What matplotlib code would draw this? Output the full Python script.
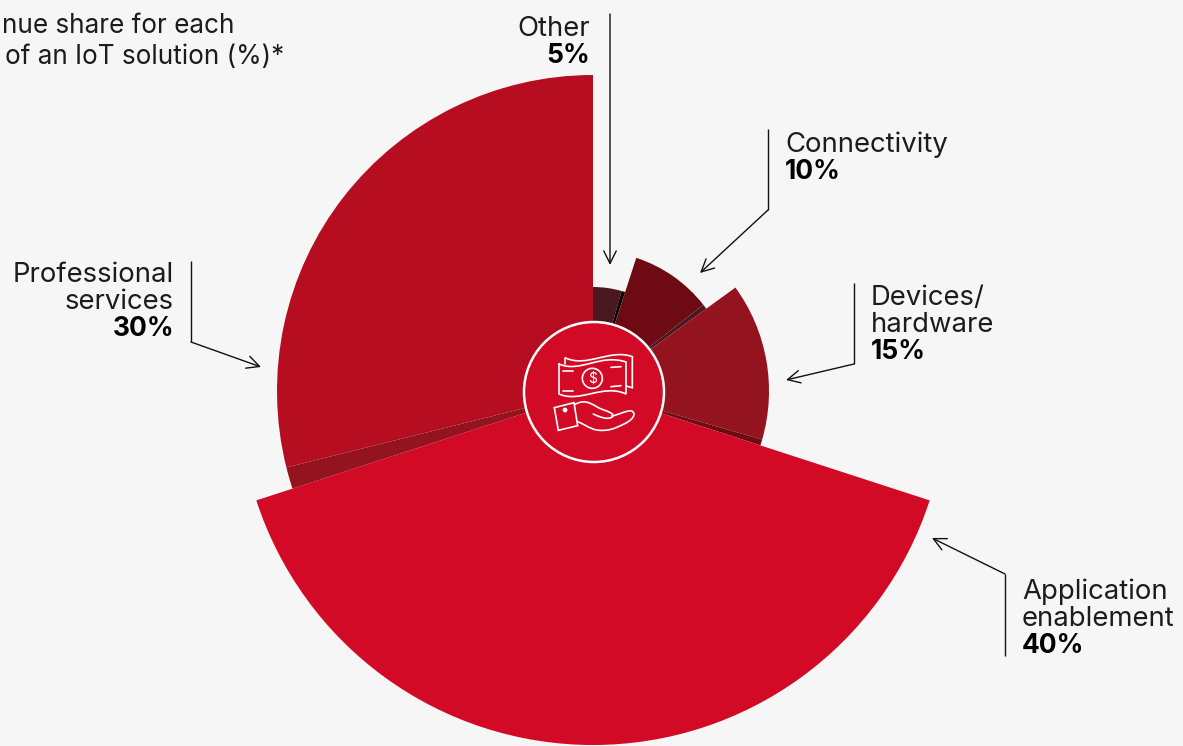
import numpy as np
import matplotlib
matplotlib.use("Agg")
import matplotlib.pyplot as plt
from matplotlib.path import Path
from matplotlib.patches import PathPatch, Circle, Polygon

plt.rcParams['font.family'] = ['Inter', 'DejaVu Sans']

W, H = 1183, 746
BG = '#f6f6f6'

# clockwise from 12 o'clock
segments = ['Other', 'Connectivity', 'Devices/hardware', 'Application enablement', 'Professional services']
shares = [5, 10, 15, 40, 30]
radii = [104, 140, 176, 354, 316]
colors = ['#4a1820', '#6e0a14', '#93131f', '#d20a25', '#b60d20']
# dark strip where a slice meets a taller neighbour (degrees)
strip_deg = [2, 2, 2, 0, 4]
strip_side = ['end', 'end', 'end', 'end', 'start']
strip_colors = ['#0a0505', '#4a1820', '#6e0a14', '#d20a25', '#93131f']

cx, cy = 593, 391
rmax = 355

fig = plt.figure(figsize=(W / 100, H / 100), dpi=100, facecolor=BG)

# polar pie
ax = fig.add_axes([(cx - rmax) / W, 1 - (cy + rmax) / H, 2 * rmax / W, 2 * rmax / H], projection='polar')
ax.set_theta_zero_location('N')
ax.set_theta_direction(-1)
ax.set_ylim(0, rmax)
ax.axis('off')

start = 0
for share, r, c, strip, side, sc in zip(shares, radii, colors, strip_deg, strip_side, strip_colors):
    width = share * 3.6
    main = width - strip
    main_start = start + strip if side == 'start' else start
    strip_start = start if side == 'start' else start + main
    ax.bar(np.radians(main_start), r, width=np.radians(main), align='edge', color=c, linewidth=0)
    if strip:
        ax.bar(np.radians(strip_start), r, width=np.radians(strip), align='edge', color=sc, linewidth=0)
    start += width

# overlay in pixel coordinates
ov = fig.add_axes([0, 0, 1, 1])
ov.set_xlim(0, W)
ov.set_ylim(H, 0)
ov.axis('off')
ov.patch.set_alpha(0)

FS = 19.8
FS_BOLD = 19
FS_TITLE = 18.8
TXT = '#1c1c1c'

# (x, align, first baseline y, lines, value)
label_x = [590, 785, 871, 1022, 174]
label_ha = ['right', 'left', 'left', 'left', 'right']
label_y = [36, 152, 305, 599, 282]
label_lines = [['Other'], ['Connectivity'], ['Devices/', 'hardware'], ['Application', 'enablement'], ['Professional', 'services']]
label_vals = ['5%', '10%', '15%', '40%', '30%']

for x, ha, y, lines, val in zip(label_x, label_ha, label_y, label_lines, label_vals):
    for ln in lines:
        ov.text(x, y, ln, ha=ha, va='baseline', fontsize=FS, color=TXT)
        y += 27
    ov.text(x, y, val, ha=ha, va='baseline', fontsize=FS_BOLD, color='black', fontweight='bold')

ov.text(2, 33, 'nue share for each', ha='left', va='baseline', fontsize=FS_TITLE, color=TXT)
ov.text(5, 64, 'of an IoT solution (%)*', ha='left', va='baseline', fontsize=FS_TITLE, color=TXT)

# leader lines
leaders = [
    [(610, 14), (610, 265)],
    [(768, 129), (768, 210), (700, 273)],
    [(854, 283), (854, 364), (786, 380)],
    [(1005, 656), (1005, 574), (932, 538)],
    [(191, 261), (191, 342), (261, 367)],
]
for pts in leaders:
    for a, b in zip(pts[:-2], pts[1:-1]):
        ov.plot([a[0], b[0]], [a[1], b[1]], color='#111111', lw=1.0, solid_capstyle='butt')
    ov.annotate('', xy=pts[-1], xytext=pts[-2],
                arrowprops=dict(arrowstyle='->,head_length=0.9,head_width=0.45', color='#111111', lw=1.0,
                                shrinkA=0, shrinkB=0))

# centre badge
ov.add_patch(Circle((594, 392), 70, facecolor='#d20a25', edgecolor='white', lw=1.8, zorder=5))


def z(x, y):
    # zoom crop coords -> pixels
    return (x / 3 + 500, y / 3 + 240)


def curve(points):
    verts = [z(*p) for p in points]
    codes = [Path.MOVETO]
    i = 1
    while i < len(verts):
        codes += [Path.CURVE4] * 3
        i += 3
    return Path(verts, codes)


def draw(path):
    ov.add_patch(PathPatch(path, facecolor='none', edgecolor='white', lw=1.2, zorder=6, capstyle='round'))


def seg(*pts):
    xs, ys = zip(*[z(*p) for p in pts])
    ov.plot(xs, ys, color='white', lw=1.2, zorder=6, solid_capstyle='round')


# banknotes
draw(curve([(177, 372), (240, 400), (300, 340), (378, 366), (378, 400), (378, 430), (378, 462),
            (310, 430), (240, 490), (177, 462), (177, 430), (177, 400), (177, 372)]))
draw(curve([(195, 372), (195, 365), (195, 360), (195, 353), (260, 385), (330, 325), (397, 350),
            (397, 380), (397, 410), (397, 443)]))
seg((378, 438), (397, 443))
for a, b in [((190, 394), (220, 394)), ((333, 382), (363, 380)), ((190, 452), (220, 452)), ((333, 440), (363, 437))]:
    seg(a, b)
ov.add_patch(Circle(z(277, 415), 10, facecolor='none', edgecolor='white', lw=1.2, zorder=6))
ov.text(*z(277, 416), '$', ha='center', va='center', fontsize=10, color='white', zorder=6)

# hand
ov.add_patch(Polygon([z(163, 503), z(222, 488), z(233, 557), z(175, 571)], closed=True,
                     facecolor='none', edgecolor='white', lw=1.2, zorder=6))
ov.add_patch(Circle(z(195, 510), 2.4, facecolor='white', edgecolor='none', zorder=6))
draw(curve([(225, 493), (250, 480), (265, 485), (290, 500), (305, 510), (325, 512), (337, 522),
            (345, 532), (325, 545), (280, 522)]))
draw(curve([(335, 528), (355, 525), (380, 510), (395, 513), (410, 520), (400, 540), (370, 553),
            (345, 565), (325, 575), (290, 570), (265, 565), (250, 550), (232, 545)]))

fig.savefig('out.png', dpi=100, facecolor=BG)
